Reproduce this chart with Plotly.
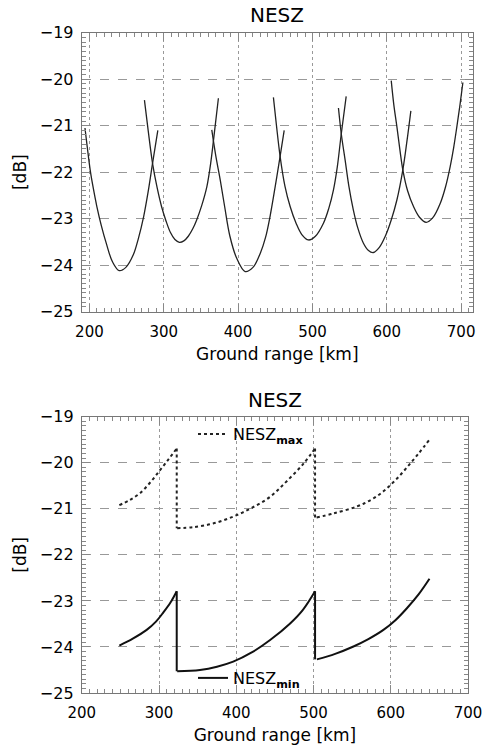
import plotly.graph_objects as go

# ---------------- data ----------------
# Top panel: NESZ of the individual beams [dB] vs ground range [km]
beam1_x = [194, 197, 201, 205, 210, 216, 223, 231, 240, 249, 259, 266, 273, 279, 285, 292]
beam1_y = [-21.05, -21.45, -21.95, -22.33, -22.74, -23.15, -23.55, -23.93, -24.12, -24.05,
           -23.78, -23.42, -22.95, -22.42, -21.8, -21.1]

beam2_x = [274, 279, 285, 291, 297, 303, 309, 315, 321, 327, 333, 339, 344, 351, 358, 363, 367, 373.5]
beam2_y = [-20.45, -21.1, -21.82, -22.33, -22.74, -23.05, -23.3, -23.45, -23.51, -23.48,
           -23.38, -23.22, -23.04, -22.72, -22.31, -21.82, -21.3, -20.41]

beam3_x = [364.6, 370, 376, 382, 389, 398, 409.5, 420, 430, 437, 443, 450, 456.5, 462]
beam3_y = [-21.09, -21.65, -22.17, -22.75, -23.38, -23.85, -24.14, -24.05, -23.74, -23.4,
           -22.95, -22.3, -21.66, -21.1]

beam4_x = [447.5, 451.5, 456.5, 463, 470, 478, 486, 494.6, 504, 514.8, 522, 528.3, 533.5, 538.6, 545.4]
beam4_y = [-20.39, -20.98, -21.66, -22.3, -22.74, -23.1, -23.35, -23.46, -23.38, -23.1,
           -22.78, -22.38, -21.88, -21.2, -20.37]

beam5_x = [535, 539, 544, 549, 555, 561, 568.6, 575, 582, 590, 598, 606, 613.6, 621.6, 627, 632.4]
beam5_y = [-20.62, -21.2, -21.74, -22.3, -22.81, -23.2, -23.53, -23.68, -23.73, -23.62,
           -23.38, -23.03, -22.6, -21.95, -21.35, -20.68]

beam6_x = [606, 609.5, 613.6, 617.5, 621.6, 628, 636, 644, 653, 662, 672, 679, 685.3, 690,
           694.3, 698.5, 702.4]
beam6_y = [-20.03, -20.55, -21.02, -21.5, -21.95, -22.4, -22.74, -22.97, -23.08, -22.98,
           -22.67, -22.32, -21.88, -21.47, -21.02, -20.55, -20.07]

# Bottom panel: NESZ max / min per sub-swath
max1_x = [248.6, 262, 275.4, 289, 301.3, 312, 322.9]
max1_y = [-20.92, -20.81, -20.66, -20.42, -20.16, -19.93, -19.69]
max2_x = [323.5, 344.4, 370, 396, 420, 443.8, 465.4, 487, 502]
max2_y = [-21.42, -21.40, -21.32, -21.17, -20.98, -20.74, -20.40, -20.02, -19.69]
max3_x = [504, 526, 556, 575, 590.5, 606, 621, 636, 650]
max3_y = [-21.19, -21.10, -20.95, -20.80, -20.62, -20.38, -20.10, -19.80, -19.50]

min1_x = [248.6, 266, 284, 296, 305.6, 315, 322.9]
min1_y = [-23.97, -23.82, -23.63, -23.45, -23.25, -23.03, -22.79]
min2_x = [323.5, 353, 375, 396, 420, 443.8, 469.7, 486, 502]
min2_y = [-24.53, -24.50, -24.43, -24.32, -24.12, -23.85, -23.49, -23.20, -22.79]
min3_x = [504.3, 528, 551.7, 571, 590.5, 606, 620.9, 636, 650.1]
min3_y = [-24.27, -24.15, -23.99, -23.83, -23.63, -23.42, -23.16, -22.86, -22.52]

top_xrange = [189.6, 716]
bot_xrange = [200, 700]
y_range = [-25, -19]
x_ticks = [200, 300, 400, 500, 600, 700]
y_ticks = [-25, -24, -23, -22, -21, -20, -19]

title_text = "NESZ"
x_title = "Ground range [km]"
y_title = "[dB]"
max_name = "NESZ<sub><b>max</b></sub>"
min_name = "NESZ<sub><b>min</b></sub>"

# ---------------- figure ----------------
W, H = 484, 751
FONT = "DejaVu Sans"
fig = go.Figure()

for bx, by in [(beam1_x, beam1_y), (beam2_x, beam2_y), (beam3_x, beam3_y),
               (beam4_x, beam4_y), (beam5_x, beam5_y), (beam6_x, beam6_y)]:
    fig.add_trace(go.Scatter(x=bx, y=by, mode="lines", xaxis="x", yaxis="y",
                             line=dict(color="#222", width=1.3, shape="spline", smoothing=1.0),
                             showlegend=False, hoverinfo="skip"))

# max segments (dotted) with vertical drops
max_segs = [(max1_x, max1_y), (max2_x, max2_y), (max3_x, max3_y)]
for i, (sx, sy) in enumerate(max_segs):
    fig.add_trace(go.Scatter(x=sx, y=sy, mode="lines", xaxis="x2", yaxis="y2",
                             line=dict(color="#222", width=2, dash="dot", shape="spline"),
                             name=max_name, legendgroup="max", legend="legend",
                             showlegend=(i == 0), hoverinfo="skip"))
for a, b in [(max_segs[0], max_segs[1]), (max_segs[1], max_segs[2])]:
    fig.add_trace(go.Scatter(x=[a[0][-1], a[0][-1]], y=[a[1][-1], b[1][0]], mode="lines",
                             xaxis="x2", yaxis="y2",
                             line=dict(color="#222", width=2, dash="dot"),
                             legendgroup="max", showlegend=False, hoverinfo="skip"))

min_segs = [(min1_x, min1_y), (min2_x, min2_y), (min3_x, min3_y)]
for i, (sx, sy) in enumerate(min_segs):
    fig.add_trace(go.Scatter(x=sx, y=sy, mode="lines", xaxis="x2", yaxis="y2",
                             line=dict(color="#111", width=2, shape="spline"),
                             name=min_name, legendgroup="min", legend="legend2",
                             showlegend=(i == 0), hoverinfo="skip"))
for a, b in [(min_segs[0], min_segs[1]), (min_segs[1], min_segs[2])]:
    fig.add_trace(go.Scatter(x=[a[0][-1], a[0][-1]], y=[a[1][-1], b[1][0]], mode="lines",
                             xaxis="x2", yaxis="y2",
                             line=dict(color="#111", width=2),
                             legendgroup="min", showlegend=False, hoverinfo="skip"))


def axis_common(griddash, fsize, standoff):
    return dict(showline=True, linecolor="#777", linewidth=1, mirror="ticks",
                ticks="inside", ticklen=8, tickcolor="#888", tickwidth=1,
                showgrid=True, gridcolor="#999", gridwidth=1, griddash=griddash,
                zeroline=False, automargin=False, ticklabelstandoff=standoff,
                tickfont=dict(family=FONT, size=fsize, color="black"))


# panel geometry (pixels)
tx0, tx1, ty0, ty1 = 81.7, 473, 32.8, 311.5
bx0, bx1, by0, by1 = 81.8, 468, 416.7, 693

minor_x = dict(ticks="inside", ticklen=4, tickcolor="#888", dtick=10, tick0=0, showgrid=False)
minor_y = dict(ticks="inside", ticklen=4, tickcolor="#888", dtick=0.1, tick0=0, showgrid=False)
xtitle = dict(text=x_title, standoff=8, font=dict(family=FONT, size=17, color="black"))
ytitle = dict(text=y_title, standoff=8, font=dict(family=FONT, size=17, color="black"))

xa = axis_common("dot", 15, 6)
xa.update(domain=[tx0 / W, tx1 / W], range=top_xrange, tickvals=x_ticks, anchor="y",
          minor=minor_x, title=xtitle)
ya = axis_common("dash", 16, 4)
ya.update(domain=[1 - ty1 / H, 1 - ty0 / H], range=y_range, tickvals=y_ticks, anchor="x",
          minor=minor_y, title=ytitle)
xa2 = axis_common("dot", 15, 6)
xa2.update(domain=[bx0 / W, bx1 / W], range=bot_xrange, tickvals=x_ticks, anchor="y2",
           minor=minor_x, title=xtitle)
ya2 = axis_common("dash", 16, 4)
ya2.update(domain=[1 - by1 / H, 1 - by0 / H], range=y_range, tickvals=y_ticks, anchor="x2",
           minor=minor_y, title=ytitle)

fig.update_layout(
    width=W, height=H, autosize=False,
    margin=dict(l=0, r=0, t=0, b=0),
    paper_bgcolor="white", plot_bgcolor="white",
    font=dict(family=FONT, color="black"),
    xaxis=xa, yaxis=ya, xaxis2=xa2, yaxis2=ya2,
    legend=dict(x=193 / W, y=1 - 434 / H, xanchor="left", yanchor="middle",
                bgcolor="rgba(0,0,0,0)", font=dict(family=FONT, size=16, color="black"),
                itemwidth=30),
    legend2=dict(x=193 / W, y=1 - 678 / H, xanchor="left", yanchor="middle",
                 bgcolor="rgba(0,0,0,0)", font=dict(family=FONT, size=16, color="black"),
                 itemwidth=30),
    annotations=[
        dict(text=title_text, x=(tx0 + tx1) / 2 / W, y=1 - 15 / H, xref="paper", yref="paper",
             showarrow=False, font=dict(family=FONT, size=20, color="black"),
             xanchor="center", yanchor="middle"),
        dict(text=title_text, x=(bx0 + bx1) / 2 / W, y=1 - 400 / H, xref="paper", yref="paper",
             showarrow=False, font=dict(family=FONT, size=20, color="black"),
             xanchor="center", yanchor="middle"),
    ],
)

fig.write_html("out.html", config={"displayModeBar": False},
               post_script="document.body.style.margin='0';")
